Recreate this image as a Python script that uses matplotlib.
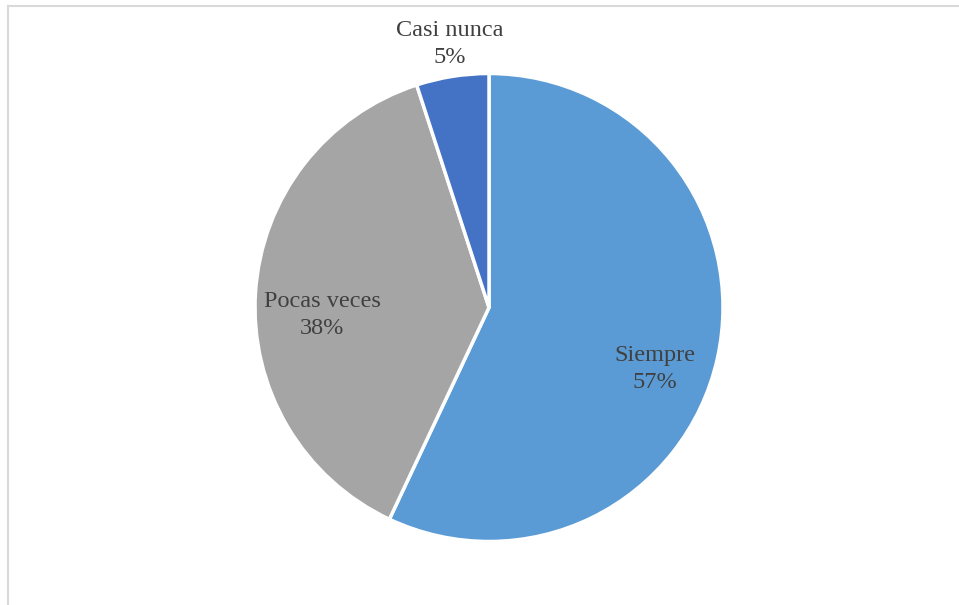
import matplotlib.pyplot as plt
from matplotlib.lines import Line2D

categorias = ['Siempre', 'Pocas veces', 'Casi nunca']
porcentajes = [57, 38, 5]
colores = ['#5B9BD5', '#A5A5A5', '#4472C4']

# posicion de cada etiqueta (pixeles, origen abajo a la izquierda)
pos_etiquetas = [(655, 236), (322, 290), (450, 561)]

fig = plt.figure(figsize=(9.59, 6.05), dpi=100)
ax = fig.add_axes([0, 0, 1, 1])

ax.pie(porcentajes, colors=colores, startangle=90, counterclock=False,
       center=(489, 297.5), radius=234, frame=True,
       wedgeprops=dict(edgecolor='white', linewidth=2.5))
ax.set_xlim(0, 959)
ax.set_ylim(0, 605)
ax.set_aspect('auto')
ax.axis('off')

for cat, p, (x, y) in zip(categorias, porcentajes, pos_etiquetas):
    ax.text(x, y, f'{cat}\n{p}%', ha='center', va='center',
            fontsize=17.5, family='Liberation Serif', color='#404040',
            linespacing=1.4)

# marco del area del grafico
W, H = 959, 605
fig.add_artist(Line2D([8 / W, 1], [599.5 / H, 599.5 / H], color='#D9D9D9', lw=1.5))
fig.add_artist(Line2D([8 / W, 8 / W], [0, 599.5 / H], color='#D9D9D9', lw=1.5))

fig.savefig('out.png', dpi=100)
